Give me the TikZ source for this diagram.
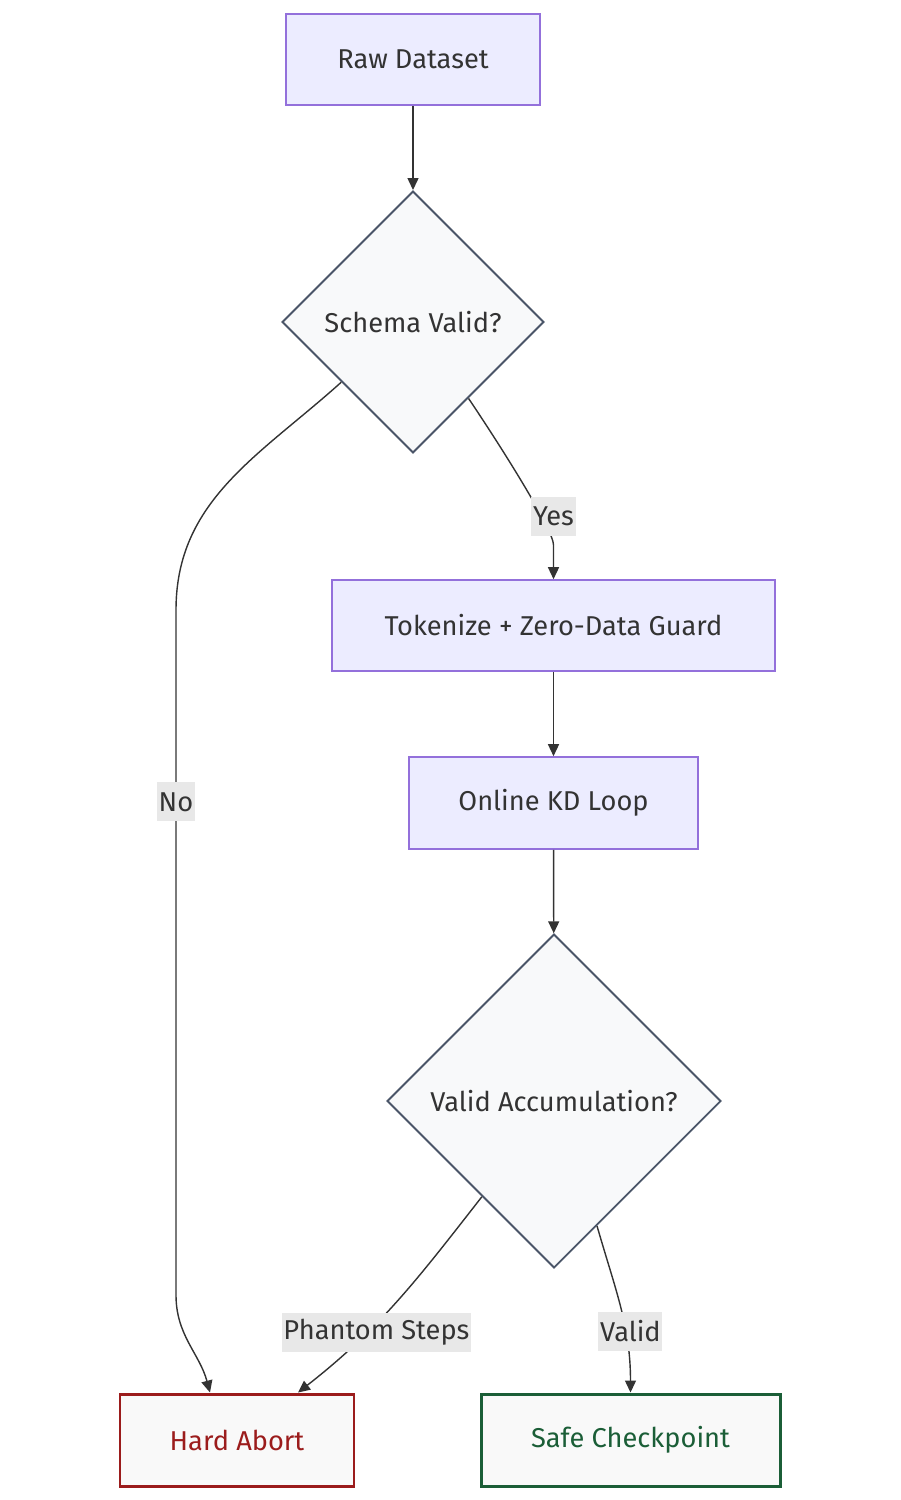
\documentclass[tikz,border=0pt]{standalone}
\usepackage{fontspec}
\setmainfont{Fira Sans}
\usetikzlibrary{shapes.geometric, arrows.meta, positioning}
\definecolor{stepfill}{HTML}{ECECFF}
\definecolor{stepline}{HTML}{9370DB}
\definecolor{askfill}{HTML}{F8F9FA}
\definecolor{askline}{HTML}{4A5568}
\definecolor{abortcolor}{HTML}{9B1C1C}
\definecolor{safecolor}{HTML}{1B5E37}
\definecolor{endfill}{HTML}{F9F9F9}
\definecolor{labelfill}{HTML}{E8E8E8}
\definecolor{edgecolor}{HTML}{333333}

\begin{document}
\begin{tikzpicture}[font=\fontsize{15.5}{18}\selectfont,
    stepbox/.style={rectangle, draw=stepline, fill=stepfill, line width=0.9pt,
                    minimum height=1.82cm, text=edgecolor},
    ask/.style={diamond, aspect=1, draw=askline, fill=askfill, line width=1.1pt,
                minimum width=#1, minimum height=#1, inner sep=0pt, text=edgecolor},
    endbox/.style={rectangle, draw=#1, fill=endfill, line width=1.7pt,
                   minimum height=1.84cm, text=#1},
    flow/.style={-{Triangle[length=0.24cm, width=0.22cm]}, line width=0.8pt, edgecolor},
    tag/.style={fill=labelfill, inner xsep=1pt, inner ysep=0pt, minimum height=0.78cm,
                text=edgecolor}
]
\useasboundingbox (0,0) rectangle (18,-30);

% Pipeline
\node[stepbox, minimum width=5.08cm] (raw) at (8.26,-1.19) {Raw Dataset};
\node[ask=5.24cm] (schema) at (8.26,-6.44) {Schema Valid?};
\node[stepbox, minimum width=8.86cm] (tok) at (11.07,-12.51) {Tokenize + Zero-Data Guard};
\node[stepbox, minimum width=5.78cm, minimum height=1.84cm] (kd) at (11.07,-16.06) {Online KD Loop};
\node[ask=6.68cm] (accum) at (11.08,-22.02) {Valid Accumulation?};

% Outcomes
\node[endbox=abortcolor, minimum width=4.68cm] (abort) at (4.74,-28.80) {Hard Abort};
\node[endbox=safecolor, minimum width=5.98cm] (safe) at (12.61,-28.80) {Safe Checkpoint};

% Bends
\coordinate (yesbend) at (11.07,-10.9);
\coordinate (noup) at (3.52,-12.2);
\coordinate (nodown) at (3.52,-25.9);

% Connections
\draw[flow] (raw) -- (schema);
\draw[flow] (schema.-54) .. controls +(-56:1.2) and +(90:0.3) ..
    node[tag, pos=0.7, xshift=0.24cm] {Yes} (yesbend) -- (tok.north);
\draw[flow] (schema.-140) to[out=-138, in=90] (noup)
    -- node[tag, pos=0.28] {No} (nodown) to[out=-90, in=105] ([xshift=-0.54cm]abort.north);
\draw[flow] (tok) -- (kd);
\draw[flow] (kd) -- (accum);
\draw[flow] (accum.-127) to[out=-128, in=38]
    node[tag, pos=0.67, xshift=0.18cm] {Phantom Steps} ([xshift=1.22cm]abort.north);
\draw[flow] (accum.-71) to[out=-74, in=90]
    node[tag, pos=0.65, xshift=0.1cm] {Valid} (safe.north);

\end{tikzpicture}
\end{document}
